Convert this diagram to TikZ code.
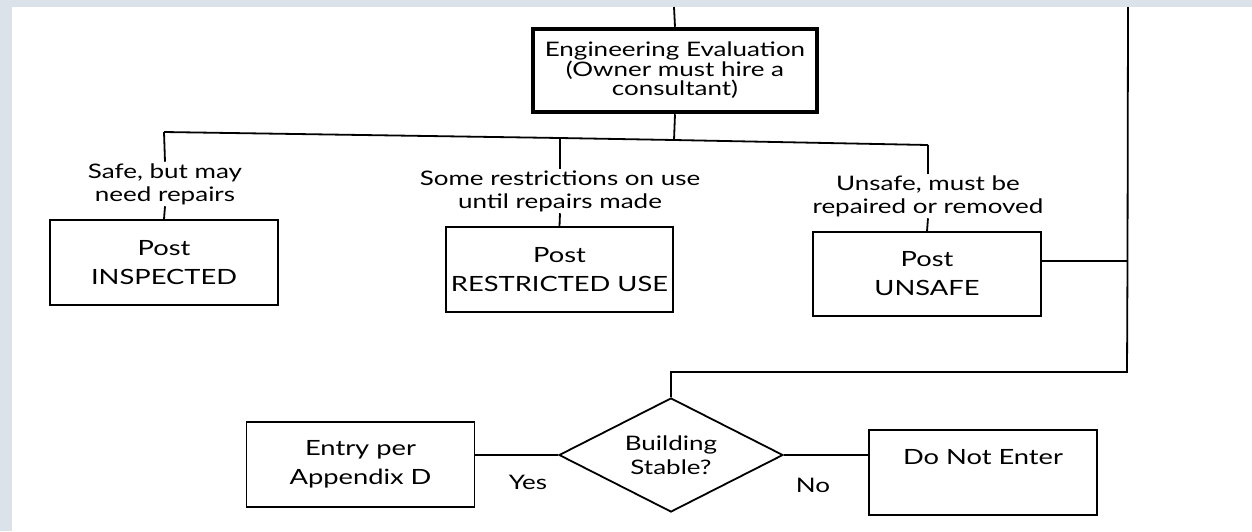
\documentclass[tikz,border=0pt]{standalone}
\usepackage{fontspec}
\setmainfont{Lato}[FakeStretch=1.3]
\usetikzlibrary{shapes.geometric}
\definecolor{bgedge}{HTML}{DCE2E9}
\tikzset{
  box/.style={draw=black, line width=1.8pt, rectangle, inner sep=0pt, minimum width=228pt, minimum height=85pt, align=center, font=\fontsize{21}{29}\selectfont},
  engbox/.style={draw=black, line width=4.5pt, rectangle, inner sep=0pt, minimum width=284pt, minimum height=83pt, align=center, font=\fontsize{20}{19.5}\selectfont},
  cond/.style={align=center, inner sep=1.5pt, font=\fontsize{20}{23}\selectfont},
  ans/.style={inner sep=0pt, font=\fontsize{20}{23}\selectfont},
  decision/.style={draw=black, line width=1.8pt, diamond, shape aspect=1.96, inner sep=0pt, minimum width=224pt, minimum height=114pt, align=center, font=\fontsize{20}{24}\selectfont},
  wire/.style={draw=black, line width=1.8pt}
}
\begin{document}
\begin{tikzpicture}[x=1pt, y=-1pt]
\useasboundingbox (0,0) rectangle (1252,531);
\fill[bgedge] (0,0) rectangle (1252,531);
\fill[white] (12,7) rectangle (1252,531);

% top box
\node[engbox] (eng) at (675,70.5) {Engineering Evaluation\\(Owner must hire a\\consultant)};
\coordinate (topin) at (674,7);

% junction line
\coordinate (jl) at (164,132);
\coordinate (jm) at (674,140);
\coordinate (jc) at (560,138);
\coordinate (jr) at (928,145);

% condition labels
\node[cond] (c1) at (165,184) {Safe, but may\\need repairs};
\node[cond] (c2) at (560,191) {Some restrictions on use\\until repairs made};
\node[cond] (c3) at (928,196) {Unsafe, must be\\repaired or removed};

% post boxes
\node[box] (insp) at (164,262.5) {Post\\INSPECTED};
\node[box, minimum width=227pt] (restr) at (559.5,269.5) {Post\\RESTRICTED USE};
\node[box, minimum height=84pt] (unsafe) at (927,274) {Post\\UNSAFE};

% right loop
\coordinate (rtop) at (1128,7);
\coordinate (rj) at (1127.5,261);
\coordinate (rbot) at (1127,372);
\coordinate (dtop) at (671,372);

% decision row
\node[decision] (stable) at (671,455) {Building\\Stable?};
\node[box] (entry) at (360.5,464.5) {Entry per\\Appendix D};
\node[box] (dne) at (983,472.5) {};
\node[inner sep=0pt, font=\fontsize{21}{29}\selectfont] (dnetext) at (983,457) {Do Not Enter};
\node[ans] (yes) at (528,482) {Yes};
\node[ans] (no) at (813,485) {No};

% connectors
\draw[wire] (topin) -- (eng.north);
\draw[wire] (eng.south) -- (jm);
\draw[wire] (jl) -- (jc) -- (jm) -- (jr);
\draw[wire] (jl) -- (c1.north);
\draw[wire] (c1.south) -- (insp.north);
\draw[wire] (jc) -- (c2.north);
\draw[wire] (c2.south) -- (restr.north);
\draw[wire] (jr) -- (c3.north);
\draw[wire] (c3.south) -- (unsafe.north);
\draw[wire] (unsafe.east |- rj) -- (rj);
\draw[wire] (rtop) -- (rj) -- (rbot) -- (dtop) -- (stable.north);
\draw[wire] (stable.west) -- (stable.west -| entry.east);
\draw[wire] (stable.east) -- (stable.east -| dne.west);
\end{tikzpicture}
\end{document}
